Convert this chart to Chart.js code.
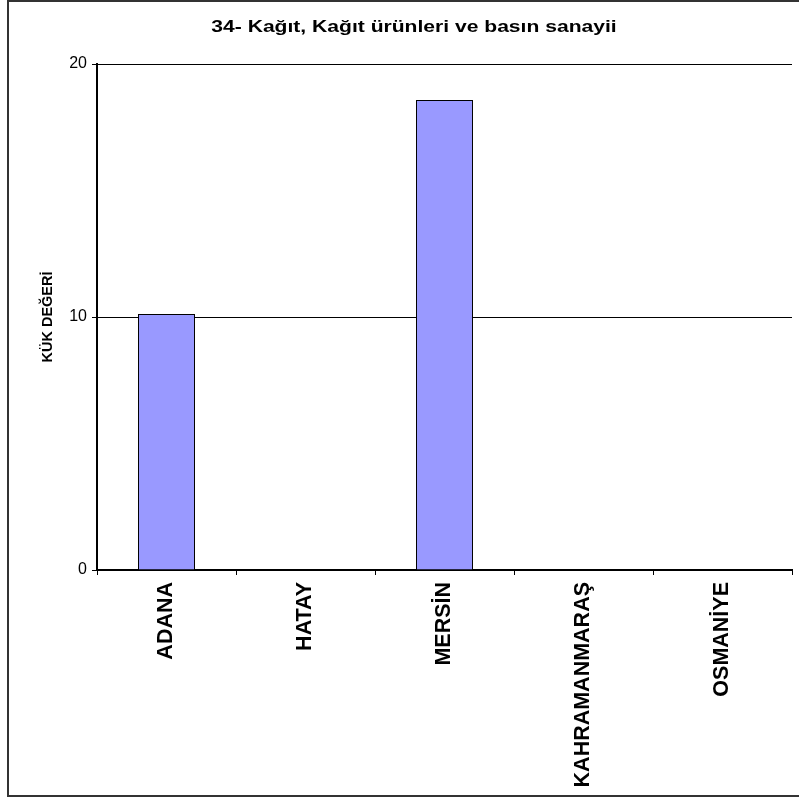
<!DOCTYPE html>
<html>
<head>
<meta charset="utf-8">
<script src="https://cdn.jsdelivr.net/npm/chart.js@4"></script>
<style>
  html, body { margin: 0; padding: 0; background: #fff; }
  #wrap { position: relative; width: 799px; height: 800px; }
</style>
</head>
<body>
<div id="wrap"><canvas id="chart" width="799" height="800"></canvas></div>
<script>
// --- Data ---
const chartTitle = '34- Kağıt, Kağıt ürünleri ve basın sanayii';
const yAxisTitle = 'KÜK DEĞERİ';
const provinces = ['ADANA', 'HATAY', 'MERSİN', 'KAHRAMANMARAŞ', 'OSMANİYE'];
const kukValues = [10.12, 0, 18.58, 0, 0];
const yTicks = [0, 10, 20];

const FONT = '"Liberation Sans", Arial, sans-serif';

// frame round the whole picture + title (the original is a bit stretched sideways)
const framePlugin = {
  id: 'frame',
  afterDraw(chart) {
    const c = chart.ctx;
    c.save();
    c.strokeStyle = '#333';
    c.lineWidth = 2;
    c.strokeRect(8, 1, 810, 795);
    c.fillStyle = '#000';
    c.font = 'bold 17px ' + FONT;
    c.textAlign = 'center';
    c.textBaseline = 'middle';
    c.translate(414, 27);
    c.scale(1.24, 1);
    c.fillText(chartTitle, 0, 0);
    c.restore();
  }
};

new Chart(document.getElementById('chart'), {
  type: 'bar',
  data: {
    labels: provinces,
    datasets: [{
      data: kukValues,
      backgroundColor: '#9999ff',
      borderColor: '#000',
      borderWidth: 1,
      barPercentage: 1,
      categoryPercentage: 0.41,
    }],
  },
  options: {
    responsive: false,
    animation: false,
    layout: { padding: { top: 64, right: 7, bottom: 0, left: 0 } },
    plugins: {
      legend: { display: false },
      tooltip: { enabled: false },
      title: { display: false },
    },
    scales: {
      x: {
        grid: { display: true, drawOnChartArea: false, color: '#000', tickLength: 5, offset: true },
        border: { color: '#000', width: 2 },
        ticks: {
          color: '#000',
          font: { family: FONT, size: 21.5, weight: 'bold' },
          maxRotation: 90, minRotation: 90,
          padding: 7,
          autoSkip: false,
        },
        afterFit(scale) { scale.height = 230; },
      },
      y: {
        min: 0, max: 20,
        afterBuildTicks(scale) { scale.ticks = yTicks.map(v => ({ value: v })); },
        grid: { color: '#000', lineWidth: 1, tickLength: 5 },
        border: { color: '#000', width: 2 },
        ticks: {
          color: '#000',
          font: { family: FONT, size: 16 },
          padding: 5,
        },
        title: {
          display: true,
          text: yAxisTitle,
          color: '#000',
          font: { family: FONT, size: 14.5, weight: 'bold' },
          padding: { top: 39, bottom: 0 },
        },
        afterFit(scale) { scale.width = 97; },
      },
    },
  },
  plugins: [framePlugin],
});
</script>
</body>
</html>
